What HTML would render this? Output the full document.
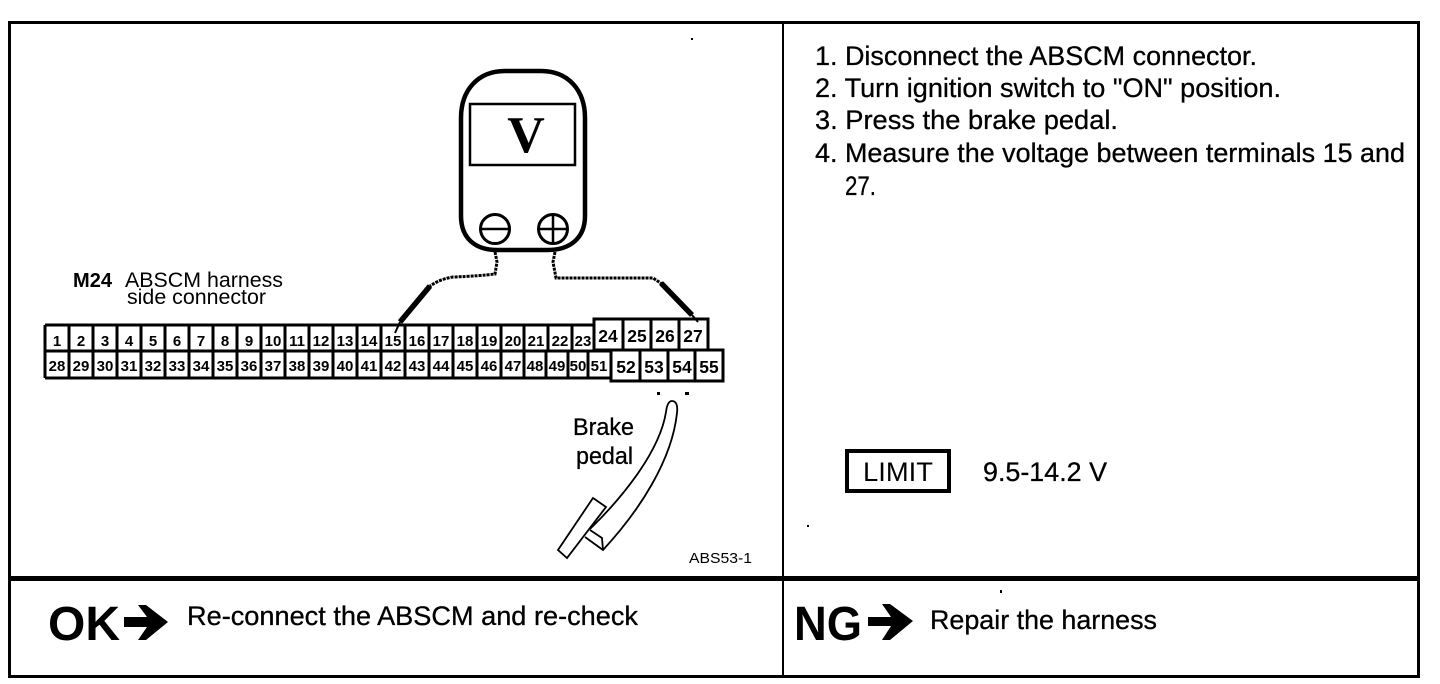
<!DOCTYPE html>
<html lang="en">
<head>
<meta charset="utf-8">
<title>ABSCM harness voltage check</title>
<style>
html,body{margin:0;padding:0;background:#fff;}
svg{display:block;}
text{font-family:"Liberation Sans",sans-serif;fill:#000;}
.t{font-size:27px;stroke:#000;stroke-width:.3px;}
.n{font-size:15px;text-anchor:middle;font-weight:bold;}
.b{font-size:17.5px;text-anchor:middle;font-weight:bold;}
</style>
</head>
<body>
<svg width="1440" height="684" viewBox="0 0 1440 684" xmlns="http://www.w3.org/2000/svg">
<rect width="1440" height="684" fill="#fff"/>

<!-- frame -->
<g fill="#000">
<rect x="8" y="21" width="1411" height="3"/>
<rect x="8" y="21" width="3" height="656"/>
<rect x="1417" y="21" width="3" height="656"/>
<rect x="8" y="675" width="1412" height="3"/>
<rect x="9" y="576" width="1411" height="5"/>
<rect x="782" y="21" width="2" height="656"/>
</g>

<!-- meter -->
<g fill="none" stroke="#000">
<path d="M505 71 H541 C568 71 585 90 585 118 V216 C585 238 570 250 548 250 H497 C475 250 461 238 461 216 V118 C461 90 478 71 505 71 Z" stroke-width="4.5"/>
<rect x="470" y="104" width="105" height="61" stroke-width="2.5"/>
<circle cx="495" cy="229" r="14.5" stroke-width="3"/>
<path d="M481 229 H510" stroke-width="2.5"/>
<circle cx="553" cy="229" r="14.5" stroke-width="3"/>
<path d="M539 229 H568 M553 215 V244" stroke-width="2.5"/>
</g>
<text x="526" y="152" text-anchor="middle" style="font-family:'Liberation Serif',serif;font-weight:bold;font-size:52px">V</text>

<!-- leads -->
<g fill="none" stroke="#000">
<path d="M495 252 L497 262 L495 274 Q480 276 453 277 Q440 279 430 286" stroke-width="3" stroke-dasharray="3 1"/>
<path d="M555 252 L553 262 L556 278 H653 L662 284" stroke-width="3" stroke-dasharray="3 1"/>
<path d="M430 286 L400 322" stroke-width="5.5"/>
<path d="M400 322 L395 333" stroke-width="2"/>
<path d="M661 283 L692 315" stroke-width="5.5"/>
<path d="M692 315 L698 322" stroke-width="2"/>
</g>

<!-- labels -->
<text x="73" y="287" style="font-weight:bold;font-size:20px" textLength="39" lengthAdjust="spacingAndGlyphs">M24</text>
<text x="125" y="287" style="font-size:21px" textLength="158" lengthAdjust="spacingAndGlyphs">ABSCM harness</text>
<text x="127" y="304" style="font-size:21px" textLength="139" lengthAdjust="spacingAndGlyphs">side connector</text>

<!-- connector -->
<g fill="none" stroke="#000" stroke-width="3">
<path d="M45 325 H593 M45 351 H610 M45 378 H610 M45 325 V378"/>
<path d="M69 325V378M93 325V378M117 325V378M141 325V378M165 325V378M189 325V378M213 325V378M237 325V378M261 325V378M285 325V378M309 325V378M333 325V378M357 325V378M381 325V378M405 325V378M429 325V378M453 325V378M477 325V378M501 325V378M524 325V378"/>
<path d="M548 325V351M572 325V351M546 351V378M568 351V378M588 351V378"/>
<rect x="594" y="319" width="114" height="31"/>
<path d="M623 319V350M651 319V350M679 319V350"/>
<rect x="611" y="350" width="112" height="31"/>
<path d="M640 350V381M668 350V381M695 350V381"/>
</g>
<g class="num">
<text class="n" x="57" y="346">1</text><text class="n" x="81" y="346">2</text><text class="n" x="105" y="346">3</text><text class="n" x="129" y="346">4</text><text class="n" x="153" y="346">5</text><text class="n" x="177" y="346">6</text><text class="n" x="201" y="346">7</text><text class="n" x="225" y="346">8</text><text class="n" x="249" y="346">9</text><text class="n" x="273" y="346">10</text><text class="n" x="297" y="346">11</text><text class="n" x="321" y="346">12</text><text class="n" x="345" y="346">13</text><text class="n" x="369" y="346">14</text><text class="n" x="393" y="346">15</text><text class="n" x="417" y="346">16</text><text class="n" x="441" y="346">17</text><text class="n" x="465" y="346">18</text><text class="n" x="489" y="346">19</text><text class="n" x="513" y="346">20</text><text class="n" x="536" y="346">21</text><text class="n" x="560" y="346">22</text><text class="n" x="583" y="346">23</text><text class="b" x="608" y="342">24</text><text class="b" x="637" y="342">25</text><text class="b" x="665" y="342">26</text><text class="b" x="693" y="342">27</text>
<text class="n" x="57" y="371">28</text><text class="n" x="81" y="371">29</text><text class="n" x="105" y="371">30</text><text class="n" x="129" y="371">31</text><text class="n" x="153" y="371">32</text><text class="n" x="177" y="371">33</text><text class="n" x="201" y="371">34</text><text class="n" x="225" y="371">35</text><text class="n" x="249" y="371">36</text><text class="n" x="273" y="371">37</text><text class="n" x="297" y="371">38</text><text class="n" x="321" y="371">39</text><text class="n" x="345" y="371">40</text><text class="n" x="369" y="371">41</text><text class="n" x="393" y="371">42</text><text class="n" x="417" y="371">43</text><text class="n" x="441" y="371">44</text><text class="n" x="465" y="371">45</text><text class="n" x="489" y="371">46</text><text class="n" x="513" y="371">47</text><text class="n" x="535" y="371">48</text><text class="n" x="557" y="371">49</text><text class="n" x="578" y="371">50</text><text class="n" x="599" y="371">51</text><text class="b" x="626" y="373">52</text><text class="b" x="654" y="373">53</text><text class="b" x="682" y="373">54</text><text class="b" x="709" y="373">55</text>
</g>

<!-- pedal -->
<g fill="none" stroke="#000" stroke-width="1.8">
<path d="M590 529 C625 495 660 450 666 412 C667 404 669 401 672 401 C676 401 678 405 677 413 C672 460 640 510 603 550 L585 537"/>
<path d="M593 498 L606 507 L567 558 L558 550 Z"/>
<path d="M590 530 L602 538 L603 550"/>
</g>
<rect x="657" y="392" width="3" height="3" fill="#000"/>
<rect x="685" y="392" width="4" height="3" fill="#000"/>
<text x="573" y="435" style="font-size:24px" textLength="61" lengthAdjust="spacingAndGlyphs" stroke="#000" stroke-width=".3">Brake</text>
<text x="576" y="464" style="font-size:24px" textLength="57" lengthAdjust="spacingAndGlyphs" stroke="#000" stroke-width=".3">pedal</text>
<text x="689" y="563" style="font-size:15px" textLength="63" lengthAdjust="spacingAndGlyphs">ABS53-1</text>

<!-- instructions -->
<text class="t" x="815" y="65" textLength="442" lengthAdjust="spacingAndGlyphs">1. Disconnect the ABSCM connector.</text>
<text class="t" x="815" y="97" textLength="466" lengthAdjust="spacingAndGlyphs">2. Turn ignition switch to "ON" position.</text>
<text class="t" x="815" y="129" textLength="303" lengthAdjust="spacingAndGlyphs">3. Press the brake pedal.</text>
<text class="t" x="815" y="162" textLength="590" lengthAdjust="spacingAndGlyphs">4. Measure the voltage between terminals 15 and</text>
<text class="t" x="845" y="195" textLength="31" lengthAdjust="spacingAndGlyphs">27.</text>

<!-- limit -->
<rect x="847" y="451" width="102" height="40" fill="none" stroke="#000" stroke-width="4"/>
<text x="863" y="481" style="font-size:27px" textLength="70" lengthAdjust="spacingAndGlyphs">LIMIT</text>
<text class="t" x="983" y="481" textLength="124" lengthAdjust="spacingAndGlyphs">9.5-14.2 V</text>

<!-- OK -->
<text x="48" y="640" style="font-weight:bold;font-size:48px" textLength="72" lengthAdjust="spacingAndGlyphs">OK</text>
<path d="M124 617 H147 L138 605 H146 L168 622 L146 640 H138 L147 627 H124 Z" fill="#000"/>
<text class="t" x="187" y="625" textLength="451" lengthAdjust="spacingAndGlyphs">Re-connect the ABSCM and re-check</text>

<!-- NG -->
<text x="794" y="640" style="font-weight:bold;font-size:48px" textLength="68" lengthAdjust="spacingAndGlyphs">NG</text>
<path d="M868 617 H891 L882 604 H890 L913 621 L890 640 H882 L891 626 H868 Z" fill="#000"/>
<text class="t" x="930" y="629" textLength="227" lengthAdjust="spacingAndGlyphs">Repair the harness</text>

<!-- specks -->
<g fill="#000">
<rect x="691" y="38" width="2" height="2"/>
<rect x="807" y="525" width="2" height="2"/>
<rect x="1000" y="590" width="2" height="3"/>
</g>
</svg>
</body>
</html>
